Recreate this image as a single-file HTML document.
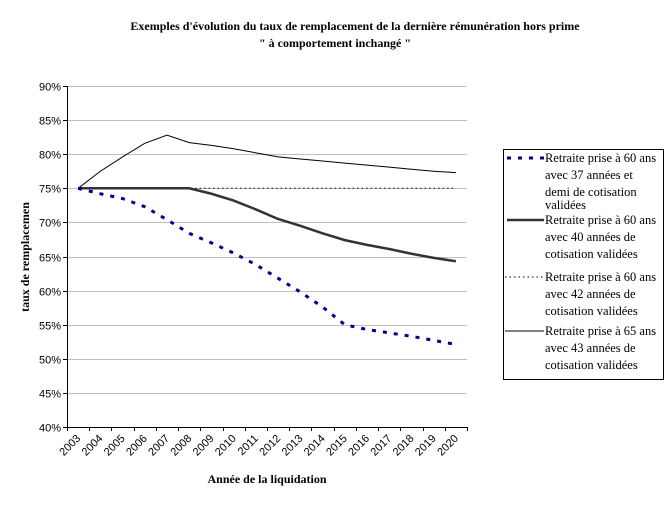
<!DOCTYPE html>
<html><head><meta charset="utf-8"><style>
body{margin:0;background:#fff;width:670px;height:504px;overflow:hidden}
text{font-family:"Liberation Serif",serif}
.ax{font-family:"Liberation Sans",sans-serif;font-size:11px}
</style></head><body>
<svg id="chart" width="670" height="504" xmlns="http://www.w3.org/2000/svg">
<text x="355" y="30" text-anchor="middle" font-size="12" font-weight="bold">Exemples d'évolution du taux de remplacement de la dernière rémunération hors prime</text>
<text x="335" y="47" text-anchor="middle" font-size="12" font-weight="bold">" à comportement inchangé "</text>
<text transform="translate(29,257) rotate(-90)" text-anchor="middle" font-size="12" font-weight="bold">taux de remplacemen</text>
<text x="267" y="483" text-anchor="middle" font-size="12" font-weight="bold">Année de la liquidation</text>
<g id="grid"></g><g id="axes"></g><g id="series"></g>
<g>
<rect x="503.5" y="149.5" width="160" height="230" fill="#fff" stroke="#000"/>
<g>
<line x1="507" y1="158" x2="544" y2="158" stroke="#00008b" stroke-width="3" stroke-dasharray="4,7"/>
<text font-size="12.5"><tspan x="545" y="162">Retraite prise à 60 ans</tspan><tspan x="545" y="179">avec 37 années et</tspan><tspan x="545" y="196">demi de cotisation</tspan><tspan x="545" y="209">validées</tspan></text></g>
<g>
<line x1="507" y1="220" x2="544" y2="220" stroke="#333" stroke-width="2.5"/>
<text font-size="12.5"><tspan x="545" y="224">Retraite prise à 60 ans</tspan><tspan x="545" y="241">avec 40 années de</tspan><tspan x="545" y="258">cotisation validées</tspan></text></g>
<g>
<line x1="505" y1="277" x2="544" y2="277" stroke="#000" stroke-width="1" stroke-dasharray="1.5,3"/>
<text font-size="12.5"><tspan x="545" y="281">Retraite prise à 60 ans</tspan><tspan x="545" y="298">avec 42 années de</tspan><tspan x="545" y="315">cotisation validées</tspan></text></g>
<g>
<line x1="505" y1="331" x2="544" y2="331" stroke="#000" stroke-width="1"/>
<text font-size="12.5"><tspan x="545" y="335">Retraite prise à 65 ans</tspan><tspan x="545" y="352">avec 43 années de</tspan><tspan x="545" y="369">cotisation validées</tspan></text></g>
</g>
</svg>
<script>
const years=[2003,2004,2005,2006,2007,2008,2009,2010,2011,2012,2013,2014,2015,2016,2017,2018,2019,2020];
const yTicks=[40,45,50,55,60,65,70,75,80,85,90];
const s37=[75,74.2,73.5,72.3,70.4,68.4,67,65.5,63.8,61.8,59.8,57.6,55,54.3,53.8,53.3,52.7,52.1];
const s40=[75,75,75,75,75,75,74.2,73.2,71.9,70.5,69.5,68.4,67.4,66.7,66.1,65.4,64.8,64.3];
const s42=[75,75,75,75,75,75,75,75,75,75,75,75,75,75,75,75,75,75];
const s65=[75,77.5,79.6,81.6,82.8,81.7,81.3,80.8,80.2,79.6,79.3,79,78.7,78.4,78.1,77.8,77.5,77.3];
const X0=67,X1=467,Y0=427,Y1=86,NS="http://www.w3.org/2000/svg";
const step=(X1-X0)/years.length;
const xs=i=>X0+step*(i+0.5), ys=v=>Y0-(v-40)/50*(Y0-Y1);
function mk(t,a,p){const e=document.createElementNS(NS,t);for(const k in a)e.setAttribute(k,a[k]);p.appendChild(e);return e;}
const grid=document.getElementById('grid'),axes=document.getElementById('axes'),ser=document.getElementById('series');
yTicks.forEach(v=>{const y=Math.round(ys(v))+0.5;
 if(v>40){const g=mk('line',{x1:X0,x2:X1,y1:y,y2:y,stroke:'#c0c0c0'},grid);
 
 }
 mk('line',{x1:X0-4,x2:X0,y1:y,y2:y,stroke:'#000'},axes);
 const t=mk('text',{x:X0-6,y:y+4,'text-anchor':'end',class:'ax'},axes);t.textContent=v+'%';
 
 });
mk('line',{x1:X0+0.5,x2:X0+0.5,y1:Y1,y2:Y0,stroke:'#000'},axes);
mk('line',{x1:X0,x2:X1,y1:Y0+0.5,y2:Y0+0.5,stroke:'#000'},axes);
for(let i=0;i<=years.length;i++){const x=Math.round(X0+step*i)+0.5;mk('line',{x1:x,x2:x,y1:Y0,y2:Y0+4,stroke:'#000'},axes);}
years.forEach((yr,i)=>{const x=xs(i)+3,y=Y0+12;
 const t=mk('text',{x:x,y:y,'text-anchor':'end',class:'ax','font-size':'11.5',transform:`rotate(-45 ${x} ${y})`},axes);t.textContent=yr;
 
 });
function line(arr,attrs,name){const p=mk('polyline',Object.assign({points:arr.map((v,i)=>xs(i)+','+ys(v)).join(' '),fill:'none'},attrs),ser);
 
 }
line(s42,{stroke:'#000','stroke-width':1,'stroke-dasharray':'1.5,3'},'series-42-annees');
line(s65,{stroke:'#000','stroke-width':1},'series-65-ans');
line(s40,{stroke:'#333','stroke-width':2.5},'series-40-annees');
line(s37,{stroke:'#00008b','stroke-width':3,'stroke-dasharray':'4,7'},'series-37-annees');
</script>
</body></html>
